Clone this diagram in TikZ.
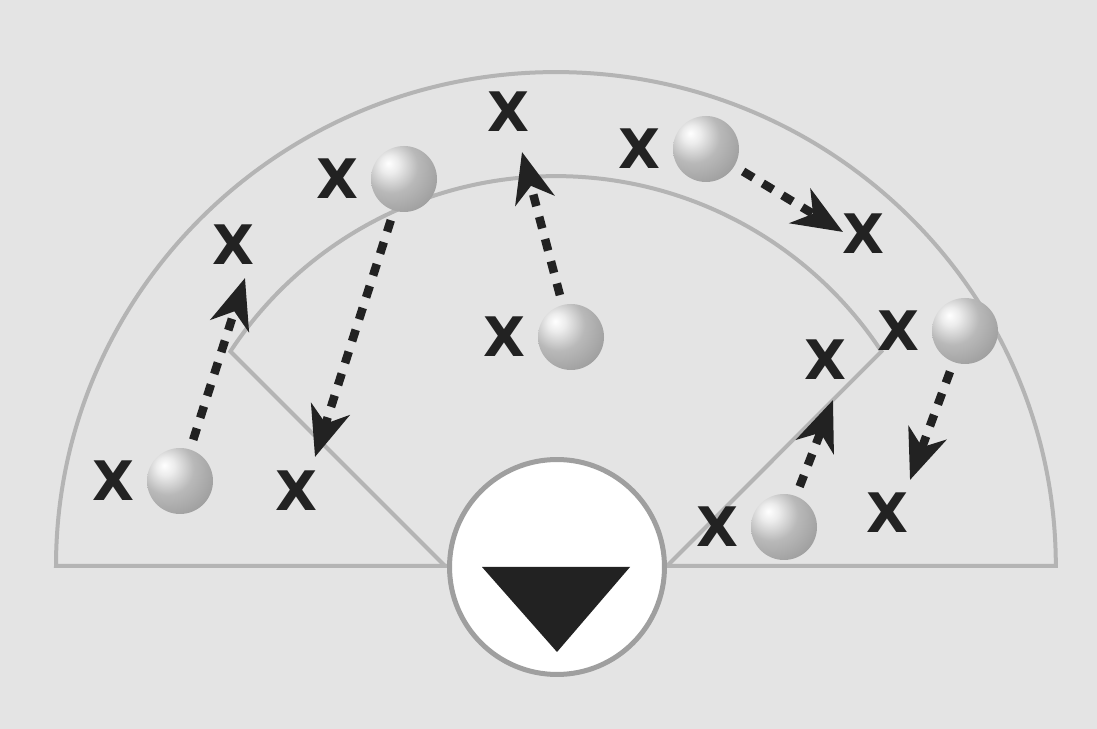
\documentclass[tikz,border=0pt]{standalone}
\usepackage{fontspec}
\newfontfamily\markfont{DejaVu Sans}
\usetikzlibrary{arrows.meta,positioning}
\definecolor{field}{HTML}{E4E4E4}
\definecolor{courtline}{HTML}{B4B4B4}
\definecolor{ink}{HTML}{222222}
\pgfdeclareradialshading{sphere}{\pgfpoint{-12bp}{12bp}}{%
  color(0bp)=(white); color(7bp)=(white!85!gray); color(20bp)=(gray!55);
  color(38bp)=(gray!78); color(55bp)=(gray!90); color(100bp)=(gray!92)}

\begin{document}
\begin{tikzpicture}[x=0.02cm, y=0.02cm,
    ball/.style={circle, minimum size=1.32cm, inner sep=0pt, shading=sphere},
    xmark/.style={font=\markfont\bfseries\fontsize{31}{31}\selectfont, text=ink, inner sep=0pt},
    run/.style={draw=ink, line width=0.17cm, dash pattern=on 0.24cm off 0.22cm,
                -{Stealth[length=1cm, width=0.8cm, inset=0.3cm]}, shorten <=0.2cm},
    court/.style={draw=courtline, line width=0.08cm},
]

% Fondo
\fill[field] (0,0) rectangle (1097,729);
\useasboundingbox (0,0) rectangle (1097,729);

% Campo
\draw[court] (56,163) arc[start angle=180, end angle=0, x radius=10cm, y radius=9.88cm] -- cycle;
\draw[court] (445,163) -- (230.4,377.6) arc[start angle=146.6, end angle=33.4, radius=7.8cm] -- (667,163);

% Base
\node[circle, draw=gray!75, line width=0.1cm, fill=white, minimum size=4.3cm] (base) at (557,162) {};
\fill[ink] (482,162) -- (630,162) -- (557,77) -- cycle;

% Jugadores
\node[ball] (bA) at (180,248) {};
\node[ball] (bB) at (404,550) {};
\node[ball] (bC) at (571,392) {};
\node[ball] (bD) at (706,580) {};
\node[ball] (bE) at (965,398) {};
\node[ball] (bF) at (784,202) {};

\node[xmark, left=0.24cm of bA] (xA) {X};
\node[xmark, left=0.24cm of bB] (xB) {X};
\node[xmark, left=0.24cm of bC] (xC) {X};
\node[xmark, left=0.24cm of bD] (xD) {X};
\node[xmark, left=0.24cm of bE] (xE) {X};
\node[xmark, left=0.24cm of bF] (xF) {X};

% Destinos
\node[xmark] (tA) at (233,484) {X};
\node[xmark] (tB) at (296,238) {X};
\node[xmark] (tC) at (508,617) {X};
\node[xmark] (tD) at (863,495) {X};
\node[xmark] (tE) at (887,216) {X};
\node[xmark] (tF) at (825,369) {X};

\coordinate (hA) at (245,451);
\coordinate (hB) at (315,272);
\coordinate (hC) at (522,577);
\coordinate (hD) at (843,497);
\coordinate (hE) at (910,249);
\coordinate (hF) at (833,329);

% Flechas
\draw[run] (bA) -- (hA);
\draw[run] (bB) -- (hB);
\draw[run] (bC) -- (hC);
\draw[run] (bD) -- (hD);
\draw[run] (bE) -- (hE);
\draw[run] (bF) -- (hF);

\end{tikzpicture}
\end{document}
